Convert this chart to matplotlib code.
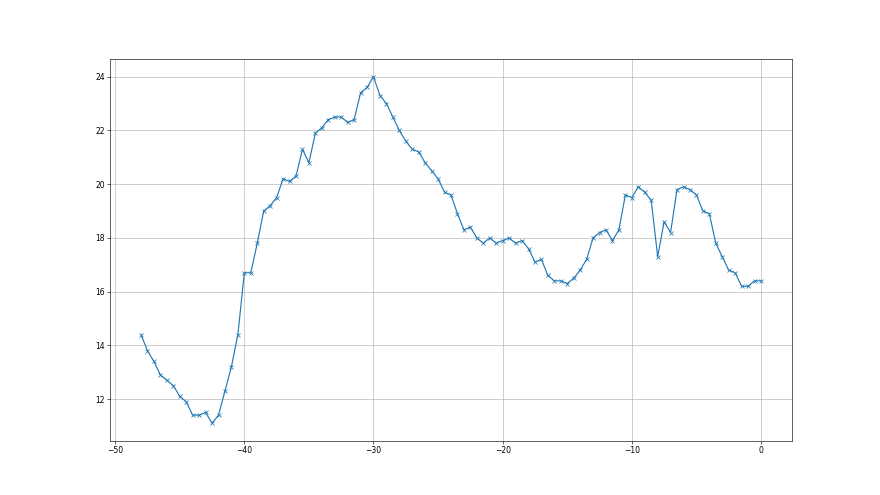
import matplotlib
matplotlib.use("Agg")
import matplotlib.pyplot as plt
import numpy as np

x_start = -48.0
x_step = 0.5
values = [
    14.4, 13.8, 13.4, 12.9, 12.7, 12.5, 12.1, 11.9, 11.4, 11.4,
    11.5, 11.1, 11.4, 12.3, 13.2, 14.4, 16.7, 16.7, 17.8, 19.0,
    19.2, 19.5, 20.2, 20.1, 20.3, 21.3, 20.8, 21.9, 22.1, 22.4,
    22.5, 22.5, 22.3, 22.4, 23.4, 23.6, 24.0, 23.3, 23.0, 22.5,
    22.0, 21.6, 21.3, 21.2, 20.8, 20.5, 20.2, 19.7, 19.6, 18.9,
    18.3, 18.4, 18.0, 17.8, 18.0, 17.8, 17.9, 18.0, 17.8, 17.9,
    17.6, 17.1, 17.2, 16.6, 16.4, 16.4, 16.3, 16.5, 16.8, 17.2,
    18.0, 18.2, 18.3, 17.9, 18.3, 19.6, 19.5, 19.9, 19.7, 19.4,
    17.3, 18.6, 18.2, 19.8, 19.9, 19.8, 19.6, 19.0, 18.9, 17.8,
    17.3, 16.8, 16.7, 16.2, 16.2, 16.4, 16.4,
]
x = [x_start + i * x_step for i in range(len(values))]

fig, ax = plt.subplots(figsize=(16, 9), dpi=55)
ax.plot(x, values, marker='x', color='#1f77b4')
ax.grid(True)
fig.savefig("out.png", dpi=55)
